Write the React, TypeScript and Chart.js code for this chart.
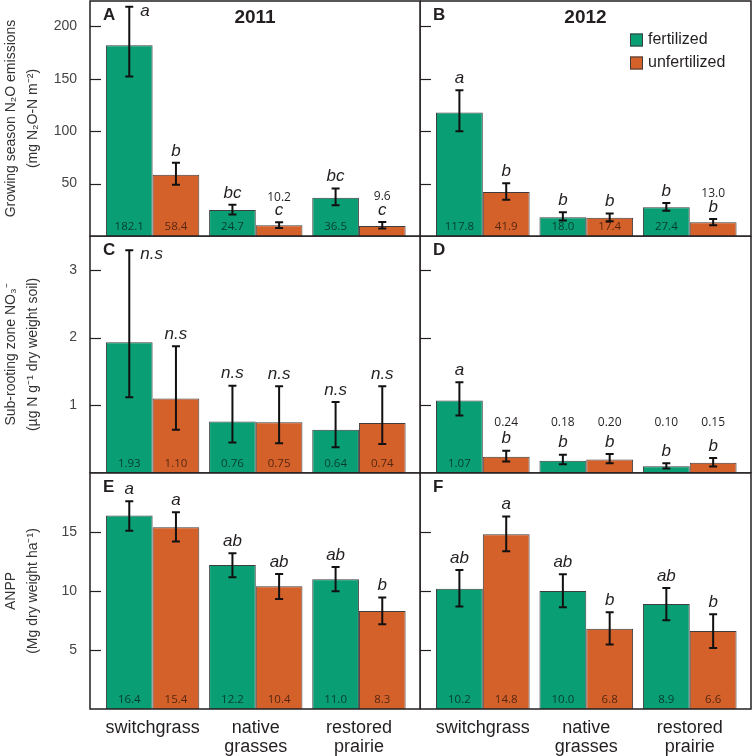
import React, { useEffect, useRef } from 'react';
import { Chart, registerables } from 'chart.js';

Chart.register(...registerables);

// ---------- data ----------
const categoryLines = [['switchgrass'], ['native', 'grasses'], ['restored', 'prairie']];
const seriesLabels = ['fertilized', 'unfertilized'];
const years = ['2011', '2012'];

// Growing season N2O emissions (mg N2O-N m-2)
const n2o2011Fert = [182.1, 24.7, 36.5];
const n2o2011FertLow = [152.1, 20.4, 29.3];
const n2o2011FertHigh = [218.6, 29.7, 45.2];
const n2o2011FertSig = ['a', 'bc', 'bc'];
const n2o2011Unfert = [58.4, 10.2, 9.6];
const n2o2011UnfertLow = [48.8, 7.7, 7.1];
const n2o2011UnfertHigh = [69.8, 13.1, 13.4];
const n2o2011UnfertSig = ['b', 'c', 'c'];

const n2o2012Fert = [117.8, 18.0, 27.4];
const n2o2012FertLow = [99.9, 14.7, 24.2];
const n2o2012FertHigh = [139.0, 22.6, 31.6];
const n2o2012FertSig = ['a', 'b', 'b'];
const n2o2012Unfert = [41.9, 17.4, 13.0];
const n2o2012UnfertLow = [34.7, 14.0, 10.2];
const n2o2012UnfertHigh = [50.3, 21.4, 16.3];
const n2o2012UnfertSig = ['b', 'b', 'b'];

// Sub-rooting zone NO3- (ug N g-1 dry weight soil)
const no32011Fert = [1.93, 0.76, 0.64];
const no32011FertLow = [1.12, 0.45, 0.38];
const no32011FertHigh = [3.29, 1.29, 1.05];
const no32011FertSig = ['n.s', 'n.s', 'n.s'];
const no32011Unfert = [1.10, 0.75, 0.74];
const no32011UnfertLow = [0.64, 0.44, 0.43];
const no32011UnfertHigh = [1.87, 1.28, 1.28];
const no32011UnfertSig = ['n.s', 'n.s', 'n.s'];

const no32012Fert = [1.07, 0.18, 0.10];
const no32012FertLow = [0.85, 0.13, 0.067];
const no32012FertHigh = [1.34, 0.27, 0.145];
const no32012FertSig = ['a', 'b', 'b'];
const no32012Unfert = [0.24, 0.20, 0.15];
const no32012UnfertLow = [0.17, 0.145, 0.096];
const no32012UnfertHigh = [0.33, 0.28, 0.22];
const no32012UnfertSig = ['b', 'b', 'b'];

// ANPP (Mg dry weight ha-1)
const anpp2011Fert = [16.4, 12.2, 11.0];
const anpp2011FertLow = [15.1, 11.16, 9.97];
const anpp2011FertHigh = [17.6, 13.2, 12.03];
const anpp2011FertSig = ['a', 'ab', 'ab'];
const anpp2011Unfert = [15.4, 10.4, 8.3];
const anpp2011UnfertLow = [14.19, 9.32, 7.18];
const anpp2011UnfertHigh = [16.67, 11.44, 9.44];
const anpp2011UnfertSig = ['a', 'ab', 'b'];

const anpp2012Fert = [10.2, 10.0, 8.9];
const anpp2012FertLow = [8.68, 8.62, 7.52];
const anpp2012FertHigh = [11.79, 11.42, 10.26];
const anpp2012FertSig = ['ab', 'ab', 'ab'];
const anpp2012Unfert = [14.8, 6.8, 6.6];
const anpp2012UnfertLow = [13.37, 5.46, 5.17];
const anpp2012UnfertHigh = [16.31, 8.2, 8.03];
const anpp2012UnfertSig = ['a', 'b', 'b'];

const n2oTicks = [50, 100, 150, 200];
const no3Ticks = [1, 2, 3];
const anppTicks = [5, 10, 15];

const n2oTitle = ['Growing season N\u2082O emissions', '(mg N\u2082O-N m\u207B\u00B2)'];
const no3Title = ['Sub-rooting zone NO\u2083\u207B', '(\u00B5g N g\u207B\u00B9 dry weight soil)'];
const anppTitle = ['ANPP', '(Mg dry weight ha\u207B\u00B9)'];

// ---------- styles ----------
const GREEN = '#0a9e74';
const ORANGE = '#d5612a';
const EDGE = '#3d3d3d';
const INK = '#231f20';
const SANS = '"Liberation Sans", Arial, sans-serif';
const NUMF = '"Open Sans", "Liberation Sans", sans-serif';

type Series = { v: number[]; lo: number[]; hi: number[]; sig: string[] };
type PanelDef = {
  key: string;
  letter: string;
  year: string | null;
  legend: boolean;
  fert: Series;
  unfert: Series;
  ticks: number[];
  max: number;
  decimals: number;
  title: string[] | null;
  bottom: boolean;
  sideSig: number[][];
  aboveLevel: number | null;
  x: number; y: number; w: number; h: number;
  pad: { top: number; bottom: number; left: number; right: number };
};

const LEFT = { x: 0, w: 421, padL: 0, padR: 1 };
const RIGHT = { x: 420, w: 332, padL: 0, padR: 1 };
const ROW1 = { y: 0, h: 237, padT: 1, padB: 1 };
const ROW2 = { y: 236, h: 237, padT: 0, padB: 0 };
const ROW3 = { y: 472, h: 284, padT: 1, padB: 0 };

function mk(col: typeof LEFT, row: typeof ROW1) {
  return { x: col.x, y: row.y, w: col.w, h: row.h, pad: { top: row.padT, bottom: row.padB, left: col.padL, right: col.padR } };
}

const panels: PanelDef[] = [
  {
    key: 'A', letter: 'A', year: years[0], legend: false,
    fert: { v: n2o2011Fert, lo: n2o2011FertLow, hi: n2o2011FertHigh, sig: n2o2011FertSig },
    unfert: { v: n2o2011Unfert, lo: n2o2011UnfertLow, hi: n2o2011UnfertHigh, sig: n2o2011UnfertSig },
    ticks: n2oTicks, max: 224.2, decimals: 1, title: n2oTitle, bottom: false,
    sideSig: [[0, 0]], aboveLevel: null, ...mk(LEFT, ROW1),
  },
  {
    key: 'B', letter: 'B', year: years[1], legend: true,
    fert: { v: n2o2012Fert, lo: n2o2012FertLow, hi: n2o2012FertHigh, sig: n2o2012FertSig },
    unfert: { v: n2o2012Unfert, lo: n2o2012UnfertLow, hi: n2o2012UnfertHigh, sig: n2o2012UnfertSig },
    ticks: n2oTicks, max: 224.2, decimals: 1, title: null, bottom: false,
    sideSig: [], aboveLevel: null, ...mk(RIGHT, ROW1),
  },
  {
    key: 'C', letter: 'C', year: null, legend: false,
    fert: { v: no32011Fert, lo: no32011FertLow, hi: no32011FertHigh, sig: no32011FertSig },
    unfert: { v: no32011Unfert, lo: no32011UnfertLow, hi: no32011UnfertHigh, sig: no32011UnfertSig },
    ticks: no3Ticks, max: 3.5, decimals: 2, title: no3Title, bottom: false,
    sideSig: [[0, 0]], aboveLevel: null, ...mk(LEFT, ROW2),
  },
  {
    key: 'D', letter: 'D', year: null, legend: false,
    fert: { v: no32012Fert, lo: no32012FertLow, hi: no32012FertHigh, sig: no32012FertSig },
    unfert: { v: no32012Unfert, lo: no32012UnfertLow, hi: no32012UnfertHigh, sig: no32012UnfertSig },
    ticks: no3Ticks, max: 3.5, decimals: 2, title: null, bottom: false,
    sideSig: [], aboveLevel: 0.75, ...mk(RIGHT, ROW2),
  },
  {
    key: 'E', letter: 'E', year: null, legend: false,
    fert: { v: anpp2011Fert, lo: anpp2011FertLow, hi: anpp2011FertHigh, sig: anpp2011FertSig },
    unfert: { v: anpp2011Unfert, lo: anpp2011UnfertLow, hi: anpp2011UnfertHigh, sig: anpp2011UnfertSig },
    ticks: anppTicks, max: 20, decimals: 1, title: anppTitle, bottom: true,
    sideSig: [], aboveLevel: null, ...mk(LEFT, ROW3),
  },
  {
    key: 'F', letter: 'F', year: null, legend: false,
    fert: { v: anpp2012Fert, lo: anpp2012FertLow, hi: anpp2012FertHigh, sig: anpp2012FertSig },
    unfert: { v: anpp2012Unfert, lo: anpp2012UnfertLow, hi: anpp2012UnfertHigh, sig: anpp2012UnfertSig },
    ticks: anppTicks, max: 20, decimals: 1, title: null, bottom: true,
    sideSig: [], aboveLevel: null, ...mk(RIGHT, ROW3),
  },
];

function makePlugin(p: PanelDef) {
  return {
    id: 'panelDecor' + p.key,
    afterDatasetsDraw(chart: any) {
      const ctx: CanvasRenderingContext2D = chart.ctx;
      const { left, right, top, bottom } = chart.chartArea;
      const ys = chart.scales.y;
      ctx.save();
      // panel frame
      ctx.strokeStyle = INK;
      ctx.lineWidth = 1.5;
      ctx.strokeRect(left, top, right - left, bottom - top);
      // inward tick marks
      ctx.lineWidth = 1.2;
      for (const t of ys.ticks) {
        const yy = Math.round(ys.getPixelForValue(t.value)) + 0.5;
        ctx.beginPath();
        ctx.moveTo(left, yy);
        ctx.lineTo(left + 11, yy);
        ctx.stroke();
      }
      const series = [p.fert, p.unfert];
      series.forEach((s, d) => {
        const meta = chart.getDatasetMeta(d);
        meta.data.forEach((el: any, i: number) => {
          const x = el.x;
          const yTop = el.y;
          const base = el.base;
          const yHi = ys.getPixelForValue(s.hi[i]);
          const yLo = ys.getPixelForValue(s.lo[i]);
          // error bar
          ctx.strokeStyle = '#111';
          ctx.lineWidth = 2;
          ctx.beginPath();
          ctx.moveTo(x, yHi);
          ctx.lineTo(x, yLo);
          ctx.moveTo(x - 4, yHi);
          ctx.lineTo(x + 4, yHi);
          ctx.moveTo(x - 4, yLo);
          ctx.lineTo(x + 4, yLo);
          ctx.stroke();
          // significance letter
          const side = p.sideSig.some(([dd, ii]) => dd === d && ii === i);
          ctx.font = 'italic 17px ' + SANS;
          ctx.fillStyle = INK;
          ctx.textBaseline = 'middle';
          let letterY: number;
          if (side) {
            ctx.textAlign = 'left';
            letterY = yHi + 4;
            ctx.fillText(s.sig[i], x + 11, letterY);
          } else {
            ctx.textAlign = 'center';
            letterY = yHi - 12;
            ctx.fillText(s.sig[i], x, letterY);
          }
          // value label
          const text = s.v[i].toFixed(p.decimals);
          ctx.textAlign = 'center';
          if (base - yTop > 17) {
            ctx.font = '11.5px ' + NUMF;
            ctx.fillStyle = 'rgba(0,0,0,0.62)';
            ctx.fillText(text, x, base - 9.5);
          } else {
            const yy = p.aboveLevel != null ? ys.getPixelForValue(p.aboveLevel) : letterY - 13;
            ctx.font = '12px ' + NUMF;
            ctx.fillStyle = INK;
            ctx.fillText(text, x, yy);
          }
        });
      });
      // panel letter
      ctx.font = 'bold 17px ' + SANS;
      ctx.fillStyle = INK;
      ctx.textAlign = 'left';
      ctx.textBaseline = 'middle';
      ctx.fillText(p.letter, left + 13, top + 14);
      // year title
      if (p.year) {
        ctx.font = 'bold 19px ' + SANS;
        ctx.textAlign = 'center';
        ctx.fillText(p.year, (left + right) / 2, top + 17);
      }
      // legend
      if (p.legend) {
        const colors = [GREEN, ORANGE];
        seriesLabels.forEach((lab, k) => {
          const sx = right - 121;
          const cy = top + 39 + k * 23;
          ctx.fillStyle = colors[k];
          ctx.fillRect(sx, cy - 6.5, 13, 13);
          ctx.strokeStyle = EDGE;
          ctx.lineWidth = 1;
          ctx.strokeRect(sx + 0.5, cy - 6, 12, 12);
          ctx.fillStyle = INK;
          ctx.font = '16px ' + SANS;
          ctx.textAlign = 'left';
          ctx.textBaseline = 'middle';
          ctx.fillText(lab, sx + 18, cy);
        });
      }
      ctx.restore();
    },
  };
}

function buildConfig(p: PanelDef): any {
  const isLeft = p.title != null;
  return {
    type: 'bar',
    data: {
      datasets: [
        {
          label: seriesLabels[0],
          data: p.fert.v.map((v, i) => ({ x: i, y: v })),
          backgroundColor: GREEN,
          borderColor: EDGE,
          borderWidth: 1,
          categoryPercentage: 0.905,
          barPercentage: 1,
        },
        {
          label: seriesLabels[1],
          data: p.unfert.v.map((v, i) => ({ x: i, y: v })),
          backgroundColor: ORANGE,
          borderColor: EDGE,
          borderWidth: 1,
          categoryPercentage: 0.905,
          barPercentage: 1,
        },
      ],
    },
    options: {
      responsive: false,
      animation: false,
      devicePixelRatio: 1,
      layout: { padding: p.pad },
      plugins: {
        legend: { display: false },
        tooltip: { enabled: false },
        title: { display: false },
      },
      scales: {
        x: {
          type: 'linear',
          offset: false,
          min: -0.607,
          max: 2.592,
          display: p.bottom,
          afterBuildTicks: (s: any) => {
            s.ticks = categoryLines.map((_, i) => ({ value: i }));
          },
          afterFit: (s: any) => {
            s.height = p.bottom ? 47 : 0;
            s.paddingLeft = 0;
            s.paddingRight = 0;
          },
          ticks: {
            stepSize: 1,
            includeBounds: false,
            autoSkip: false,
            maxRotation: 0,
            padding: 10,
            color: INK,
            font: { family: SANS, size: 18, lineHeight: '19px' },
            callback: (v: number) => categoryLines[Math.round(v)] ?? '',
          },
          grid: { display: false, drawTicks: false, offset: false },
          border: { display: false },
        },
        y: {
          type: 'linear',
          min: 0,
          max: p.max,
          afterBuildTicks: (s: any) => {
            s.ticks = p.ticks.map((v) => ({ value: v }));
          },
          afterFit: (s: any) => {
            s.width = isLeft ? 90 : 0;
            s.paddingTop = 0;
            s.paddingBottom = 0;
          },
          ticks: {
            display: isLeft,
            padding: 13,
            color: '#444',
            font: { family: SANS, size: 14 },
          },
          grid: { display: false, drawTicks: false },
          border: { display: false },
          title: {
            display: isLeft,
            text: p.title ?? '',
            color: '#333',
            padding: { top: 0, bottom: 0 },
            font: { family: SANS, size: 14, lineHeight: '22px' },
          },
        },
      },
    },
    plugins: [makePlugin(p)],
  };
}

function Panel({ def }: { def: PanelDef }) {
  const ref = useRef<HTMLCanvasElement>(null);
  useEffect(() => {
    if (!ref.current) return;
    const chart = new Chart(ref.current, buildConfig(def));
    return () => chart.destroy();
  }, [def]);
  return (
    <canvas
      ref={ref}
      width={def.w}
      height={def.h}
      style={{ position: 'absolute', left: def.x, top: def.y, width: def.w, height: def.h }}
    />
  );
}

export default function App() {
  return (
    <div style={{ position: 'absolute', left: 0, top: 0, width: 752, height: 756, background: '#fff', overflow: 'hidden' }}>
      {panels.map((p) => (
        <Panel key={p.key} def={p} />
      ))}
    </div>
  );
}
